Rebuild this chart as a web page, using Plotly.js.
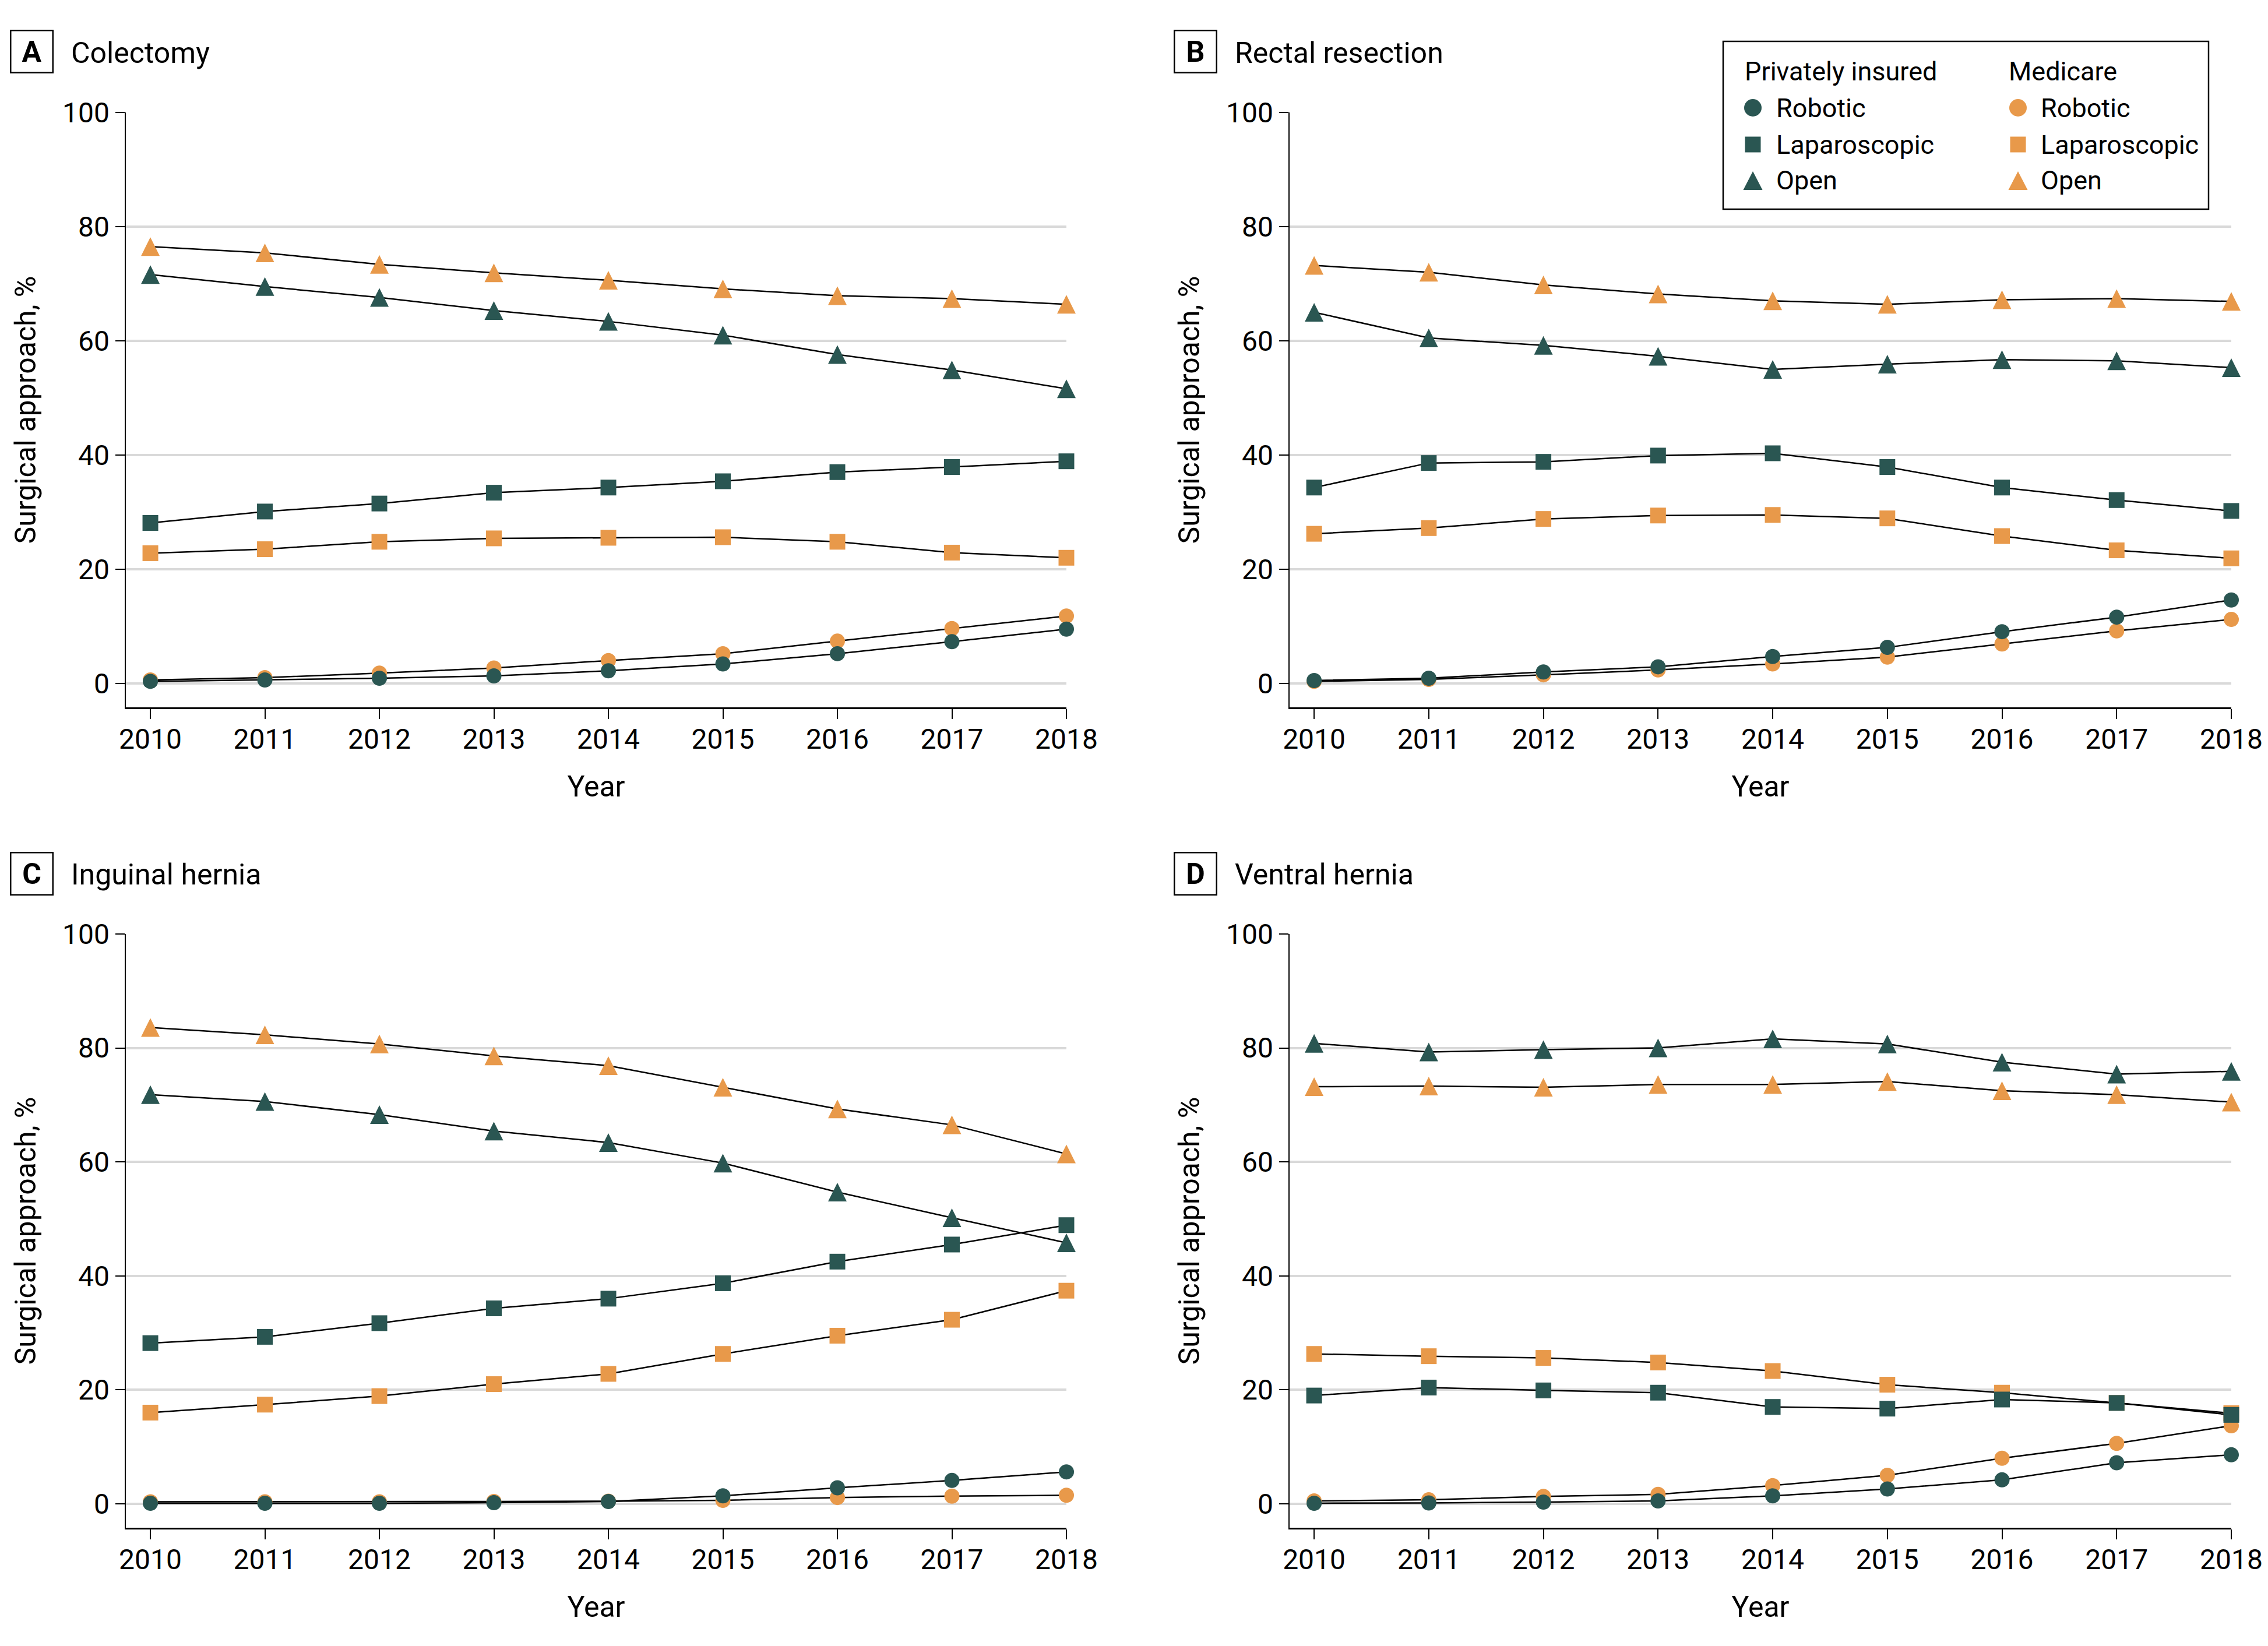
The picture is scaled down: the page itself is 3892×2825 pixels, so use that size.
<!DOCTYPE html>
<html>
<head>
<meta charset="utf-8">
<script src="https://cdn.plot.ly/plotly-3.0.1.min.js"></script>
<style>
html,body{margin:0;padding:0;background:#fff;}
#chart{width:3892px;height:2825px;}
</style>
</head>
<body>
<div id="chart"></div>
<script>
// ---------------- DATA ----------------
const years = [2010, 2011, 2012, 2013, 2014, 2015, 2016, 2017, 2018];
const yTicks = [0, 20, 40, 60, 80, 100];
const panelLetters = ['A', 'B', 'C', 'D'];
const panelNames = ['Colectomy', 'Rectal resection', 'Inguinal hernia', 'Ventral hernia'];
const insuranceGroups = ['Privately insured', 'Medicare'];
const approaches = ['Robotic', 'Laparoscopic', 'Open'];

// A Colectomy
const colectomyPrivateRobotic = [0.35, 0.6, 0.9, 1.3, 2.2, 3.4, 5.2, 7.3, 9.5];
const colectomyPrivateLaparoscopic = [28.1, 30.1, 31.5, 33.4, 34.3, 35.4, 37.0, 37.9, 38.9];
const colectomyPrivateOpen = [71.6, 69.5, 67.6, 65.3, 63.4, 61.0, 57.6, 54.9, 51.6];
const colectomyMedicareRobotic = [0.6, 1.0, 1.8, 2.7, 4.0, 5.2, 7.4, 9.6, 11.8];
const colectomyMedicareLaparoscopic = [22.8, 23.5, 24.8, 25.4, 25.5, 25.6, 24.8, 22.9, 22.0];
const colectomyMedicareOpen = [76.5, 75.4, 73.4, 71.9, 70.6, 69.1, 67.9, 67.4, 66.4];

// B Rectal resection
const rectalPrivateRobotic = [0.5, 0.9, 2.0, 2.9, 4.7, 6.3, 9.05, 11.6, 14.6];
const rectalPrivateLaparoscopic = [34.3, 38.6, 38.8, 39.9, 40.3, 37.9, 34.3, 32.1, 30.2];
const rectalPrivateOpen = [65.0, 60.5, 59.2, 57.3, 55.0, 55.9, 56.7, 56.5, 55.3];
const rectalMedicareRobotic = [0.35, 0.7, 1.5, 2.35, 3.4, 4.6, 6.9, 9.2, 11.2];
const rectalMedicareLaparoscopic = [26.2, 27.2, 28.8, 29.4, 29.5, 28.9, 25.8, 23.3, 21.9];
const rectalMedicareOpen = [73.2, 72.0, 69.8, 68.2, 67.0, 66.4, 67.2, 67.4, 66.9];

// C Inguinal hernia
const inguinalPrivateRobotic = [0.1, 0.1, 0.1, 0.2, 0.4, 1.4, 2.8, 4.1, 5.6];
const inguinalPrivateLaparoscopic = [28.2, 29.3, 31.7, 34.3, 36.0, 38.7, 42.5, 45.5, 48.9];
const inguinalPrivateOpen = [71.8, 70.6, 68.3, 65.4, 63.4, 59.8, 54.7, 50.2, 45.8];
const inguinalMedicareRobotic = [0.35, 0.35, 0.35, 0.4, 0.45, 0.6, 1.1, 1.35, 1.5];
const inguinalMedicareLaparoscopic = [16.0, 17.4, 18.9, 21.0, 22.8, 26.3, 29.5, 32.3, 37.4];
const inguinalMedicareOpen = [83.6, 82.3, 80.7, 78.6, 76.9, 73.1, 69.3, 66.5, 61.4];

// D Ventral hernia
const ventralPrivateRobotic = [0.1, 0.15, 0.3, 0.5, 1.4, 2.6, 4.2, 7.2, 8.6];
const ventralPrivateLaparoscopic = [19.0, 20.4, 19.9, 19.5, 17.0, 16.7, 18.3, 17.7, 15.6];
const ventralPrivateOpen = [80.8, 79.3, 79.7, 80.0, 81.6, 80.7, 77.5, 75.4, 75.9];
const ventralMedicareRobotic = [0.5, 0.7, 1.3, 1.65, 3.2, 5.0, 8.0, 10.6, 13.7];
const ventralMedicareLaparoscopic = [26.3, 25.9, 25.6, 24.8, 23.3, 20.9, 19.5, 17.7, 15.9];
const ventralMedicareOpen = [73.2, 73.3, 73.1, 73.6, 73.6, 74.1, 72.5, 71.8, 70.5];

// ---------------- STYLE / LAYOUT ----------------
const W = 3892, H = 2825;
const TEAL = '#2a5652';
const ORANGE = '#e8994a';
const FONT = 'Roboto, "Liberation Sans", Arial, sans-serif';
const Y_MIN = -4.2, Y_MAX = 100;
const X_MIN = 2009.786, X_MAX = 2018;
const MARKER_SIZE = {Robotic: 26, Laparoscopic: 27, Open: 32};
const SYMBOL = {Robotic: 'circle', Laparoscopic: 'square'};

const panelData = [
  {priv: [colectomyPrivateRobotic, colectomyPrivateLaparoscopic, colectomyPrivateOpen],
   med: [colectomyMedicareRobotic, colectomyMedicareLaparoscopic, colectomyMedicareOpen]},
  {priv: [rectalPrivateRobotic, rectalPrivateLaparoscopic, rectalPrivateOpen],
   med: [rectalMedicareRobotic, rectalMedicareLaparoscopic, rectalMedicareOpen]},
  {priv: [inguinalPrivateRobotic, inguinalPrivateLaparoscopic, inguinalPrivateOpen],
   med: [inguinalMedicareRobotic, inguinalMedicareLaparoscopic, inguinalMedicareOpen]},
  {priv: [ventralPrivateRobotic, ventralPrivateLaparoscopic, ventralPrivateOpen],
   med: [ventralMedicareRobotic, ventralMedicareLaparoscopic, ventralMedicareOpen]}
];

// pixel boxes of the plotting areas
const boxes = [
  {left: 216, right: 1830, top: 193, bottom: 1214},
  {left: 2213, right: 3829, top: 193, bottom: 1214},
  {left: 216, right: 1830, top: 1603, bottom: 2622},
  {left: 2213, right: 3829, top: 1603, bottom: 2622}
];

const px = v => v / W;
const py = v => 1 - v / H;

const traces = [];
const layout = {
  width: W, height: H,
  margin: {l: 0, r: 0, t: 0, b: 0, pad: 0},
  paper_bgcolor: '#ffffff',
  plot_bgcolor: '#ffffff',
  showlegend: false,
  font: {family: FONT, color: '#000', size: 48},
  annotations: [],
  shapes: []
};

boxes.forEach((b, i) => {
  const k = i + 1;
  const xa = 'xaxis' + (k === 1 ? '' : k);
  const ya = 'yaxis' + (k === 1 ? '' : k);
  const ovK = k + 4;
  const yo = 'yaxis' + ovK;
  const pxPerUnit = (b.bottom - b.top) / (Y_MAX - Y_MIN);
  const triShift = (MARKER_SIZE.Open / 2) / pxPerUnit;

  layout[xa] = {
    domain: [px(b.left), px(b.right)],
    anchor: 'y' + k,
    range: [X_MIN, X_MAX],
    tickvals: years,
    ticktext: years.map(String),
    ticks: 'outside', ticklen: 17, tickwidth: 2, tickcolor: '#000',
    ticklabelstandoff: -6,
    showline: true, linecolor: '#000', linewidth: 2.5,
    showgrid: false, zeroline: false,
    tickfont: {family: FONT, size: 48, color: '#000'},
    title: {text: 'Year', font: {family: FONT, size: 50, color: '#000'}, standoff: 36},
    fixedrange: true
  };
  layout[ya] = {
    domain: [py(b.bottom), py(b.top)],
    anchor: 'x' + k,
    range: [Y_MIN, Y_MAX],
    tickvals: yTicks,
    ticks: 'outside', ticklen: 16, tickwidth: 2, tickcolor: '#000',
    showline: true, linecolor: '#000', linewidth: 2.5,
    showgrid: true, gridcolor: '#d9d9d9', gridwidth: 4,
    zeroline: false,
    tickfont: {family: FONT, size: 48, color: '#000'},
    title: {text: 'Surgical approach, %', font: {family: FONT, size: 50, color: '#000'}, standoff: 30},
    fixedrange: true
  };
  // overlay axis used only to centre the tall triangle markers on their values
  layout[yo] = {
    overlaying: 'y' + k,
    anchor: 'x' + k,
    range: [Y_MIN - triShift, Y_MAX - triShift],
    visible: false, showgrid: false, zeroline: false, fixedrange: true
  };

  const d = panelData[i];
  const series = [
    {vals: d.med, color: ORANGE, group: 'Medicare'},
    {vals: d.priv, color: TEAL, group: 'Privately insured'}
  ];
  // robotic + laparoscopic (lines+markers), open (line only)
  series.forEach(s => {
    approaches.forEach((ap, j) => {
      const isOpen = ap === 'Open';
      const tr = {
        type: 'scatter',
        x: years, y: s.vals[j],
        xaxis: 'x' + k, yaxis: 'y' + k,
        mode: isOpen ? 'lines' : 'lines+markers',
        name: s.group + ' – ' + ap,
        line: {color: '#000', width: 2.5},
        cliponaxis: false,
        hoverinfo: 'x+y+name',
        showlegend: false
      };
      if (!isOpen) {
        tr.marker = {symbol: SYMBOL[ap], size: MARKER_SIZE[ap], color: s.color, line: {width: 0}};
      }
      traces.push(tr);
    });
  });
  // open triangles
  series.forEach(s => {
    traces.push({
      type: 'scatter',
      x: years, y: s.vals[2],
      xaxis: 'x' + k, yaxis: 'y' + ovK,
      mode: 'markers',
      name: s.group + ' – Open',
      marker: {symbol: 'arrow-up', size: MARKER_SIZE.Open, color: s.color, line: {width: 0}},
      cliponaxis: false,
      hoverinfo: 'skip',
      showlegend: false
    });
  });

  // panel letter box + title
  const labelCx = b.left - 216 + 54;
  const labelCy = b.top - 193 + 89;
  layout.annotations.push({
    xref: 'paper', yref: 'paper',
    x: px(labelCx), y: py(labelCy), xanchor: 'center', yanchor: 'middle',
    text: '<b>' + panelLetters[i] + '</b>',
    showarrow: false,
    width: 68, height: 68, borderpad: 1,
    bordercolor: '#000', borderwidth: 2.5,
    font: {family: FONT, size: 50, color: '#000'}
  });
  layout.annotations.push({
    xref: 'paper', yref: 'paper',
    x: px(b.left - 216 + 120), y: py(labelCy + 2), xanchor: 'left', yanchor: 'middle',
    text: panelNames[i],
    showarrow: false,
    font: {family: FONT, size: 50, color: '#000'}
  });
});

// ---------------- LEGEND (drawn with shapes + annotations) ----------------
layout.shapes.push({
  type: 'rect', xref: 'paper', yref: 'paper',
  x0: px(2957), x1: px(3790), y0: py(359), y1: py(71),
  line: {color: '#000', width: 2.5}, fillcolor: 'rgba(255,255,255,1)', layer: 'above'
});
const legendCols = [
  {group: insuranceGroups[0], color: TEAL, headerX: 2992, markerX: 3008, textX: 3046},
  {group: insuranceGroups[1], color: ORANGE, headerX: 3445, markerX: 3463, textX: 3500}
];
const legendRowsY = [185, 248, 310];
const LEGEND_FONT = 45;
legendCols.forEach(c => {
  layout.annotations.push({
    xref: 'paper', yref: 'paper', x: px(c.headerX), y: py(122),
    xanchor: 'left', yanchor: 'middle', showarrow: false,
    text: c.group, font: {family: FONT, size: LEGEND_FONT, color: '#000'}
  });
  approaches.forEach((ap, j) => {
    const cy = legendRowsY[j];
    layout.annotations.push({
      xref: 'paper', yref: 'paper', x: px(c.textX), y: py(cy),
      xanchor: 'left', yanchor: 'middle', showarrow: false,
      text: ap, font: {family: FONT, size: LEGEND_FONT, color: '#000'}
    });
    const base = {
      xref: 'paper', yref: 'paper',
      xsizemode: 'pixel', ysizemode: 'pixel',
      xanchor: px(c.markerX), yanchor: py(cy),
      fillcolor: c.color, line: {width: 0}, layer: 'above'
    };
    if (ap === 'Robotic') {
      layout.shapes.push(Object.assign({type: 'circle', x0: -15, x1: 15, y0: -15, y1: 15}, base));
    } else if (ap === 'Laparoscopic') {
      layout.shapes.push(Object.assign({type: 'rect', x0: -13.5, x1: 13.5, y0: -13.5, y1: 13.5}, base));
    } else {
      layout.shapes.push(Object.assign({type: 'path', path: 'M-16.5,-16 L16.5,-16 L0,16 Z'}, base));
    }
  });
});

Plotly.newPlot('chart', traces, layout, {displayModeBar: false, staticPlot: true});
</script>
</body>
</html>
